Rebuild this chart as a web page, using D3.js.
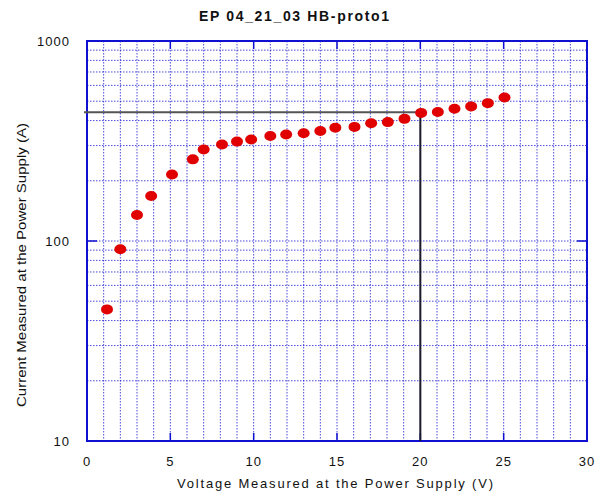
<!DOCTYPE html>
<html><head><meta charset="utf-8">
<script src="https://cdn.jsdelivr.net/npm/d3@7"></script>
<style>body{margin:0;background:#fff}svg{display:block}text{font-family:"Liberation Sans",Arial,sans-serif}</style>
</head><body>
<svg id="c" width="595" height="493"></svg>
<script>
const voltage = [1.2, 2.0, 3.0, 3.85, 5.1, 6.35, 7.0, 8.1, 9.0, 9.85, 11.0, 11.95, 13.0, 14.0, 14.9, 16.05, 17.05, 18.05, 19.05, 20.05, 21.05, 22.05, 23.05, 24.05, 25.05];
const current = [45.5, 91, 135, 168, 215, 256, 287, 304, 314, 322, 335, 341, 346, 355, 368, 372, 388, 393, 408, 437, 442, 458, 471, 489, 522];
const xTicks = [0, 5, 10, 15, 20, 25, 30];
const yTicks = [10, 100, 1000];
const refPoint = [20, 440];
const title = "EP 04_21_03 HB-proto1";
const xTitle = "Voltage Measured at the Power Supply (V)";
const yTitle = "Current Measured at the Power Supply (A)";

const svg = d3.select("#c");
const L = 87, R = 587, T = 41, B = 441;
const x = d3.scaleLinear().domain([0, 30]).range([L, R]);
const y = d3.scaleLog().domain([10, 1000]).range([B, T]);
const blue = "#1010d0";

const g = svg.append("g");
// minor grid
const xGrid = d3.range(1, 30);
g.selectAll(".vg").data(xGrid).join("line")
  .attr("x1", d => x(d)).attr("x2", d => x(d)).attr("y1", T).attr("y2", B)
  .attr("stroke", blue).attr("stroke-width", 1).attr("stroke-dasharray", "1.5,1.5").attr("opacity", 0.75);
const yGrid = [];
[10, 100].forEach(b => { for (let k = 1; k <= 9; k++) yGrid.push(b * k); });
g.selectAll(".hg").data(yGrid.filter(d => d > 10)).join("line")
  .attr("x1", L).attr("x2", R).attr("y1", d => y(d)).attr("y2", d => y(d))
  .attr("stroke", blue).attr("stroke-width", 1).attr("stroke-dasharray", "1.5,1.5").attr("opacity", 0.75);

// major ticks
g.selectAll(".xt").data(xTicks.slice(1, -1)).join("g").each(function(d) {
  const s = d3.select(this);
  s.append("line").attr("x1", x(d)).attr("x2", x(d)).attr("y1", B).attr("y2", B - 8).attr("stroke", blue).attr("stroke-width", 1.5);
  s.append("line").attr("x1", x(d)).attr("x2", x(d)).attr("y1", T).attr("y2", T + 8).attr("stroke", blue).attr("stroke-width", 1.5);
});
g.selectAll(".yt").data([100]).join("g").each(function(d) {
  const s = d3.select(this);
  s.append("line").attr("x1", L).attr("x2", L + 10).attr("y1", y(d)).attr("y2", y(d)).attr("stroke", blue).attr("stroke-width", 1.5);
  s.append("line").attr("x1", R).attr("x2", R - 10).attr("y1", y(d)).attr("y2", y(d)).attr("stroke", blue).attr("stroke-width", 1.5);
});

// frame
g.append("rect").attr("x", L).attr("y", T).attr("width", R - L).attr("height", B - T)
  .attr("fill", "none").attr("stroke", blue).attr("stroke-width", 2);

// reference lines
g.append("line").attr("x1", L - 3).attr("x2", x(refPoint[0])).attr("y1", y(refPoint[1])).attr("y2", y(refPoint[1]))
  .attr("stroke", "#555").attr("stroke-width", 2);
g.append("line").attr("x1", x(refPoint[0])).attr("x2", x(refPoint[0])).attr("y1", y(refPoint[1])).attr("y2", B)
  .attr("stroke", "#1a1a2a").attr("stroke-width", 2);

// points
g.selectAll(".pt").data(voltage.map((v, i) => [v, current[i]])).join("ellipse")
  .attr("cx", d => x(d[0])).attr("cy", d => y(d[1])).attr("rx", 6).attr("ry", 5)
  .attr("fill", "#e00000");

// tick labels
svg.selectAll(".xl").data(xTicks).join("text")
  .attr("x", d => x(d)).attr("y", 466).attr("text-anchor", "middle")
  .attr("font-size", 13).attr("letter-spacing", 1).attr("fill", "#111").text(d => d);
svg.selectAll(".yl").data(yTicks).join("text")
  .attr("x", 70).attr("y", d => y(d) + 5).attr("text-anchor", "end")
  .attr("font-size", 13).attr("letter-spacing", 1).attr("fill", "#111").text(d => d);

// titles
svg.append("text").attr("x", 199).attr("y", 21).attr("font-size", 14).attr("font-weight", "bold")
  .attr("textLength", 190).attr("lengthAdjust", "spacing").attr("fill", "#111").text(title);
svg.append("text").attr("x", 177).attr("y", 488).attr("font-size", 13)
  .attr("textLength", 316).attr("lengthAdjust", "spacing").attr("fill", "#111").text(xTitle);
svg.append("text").attr("transform", "translate(26,407) rotate(-90)").attr("font-size", 13)
  .attr("textLength", 284).attr("lengthAdjust", "spacingAndGlyphs").attr("fill", "#111").text(yTitle);
</script>
</body></html>
